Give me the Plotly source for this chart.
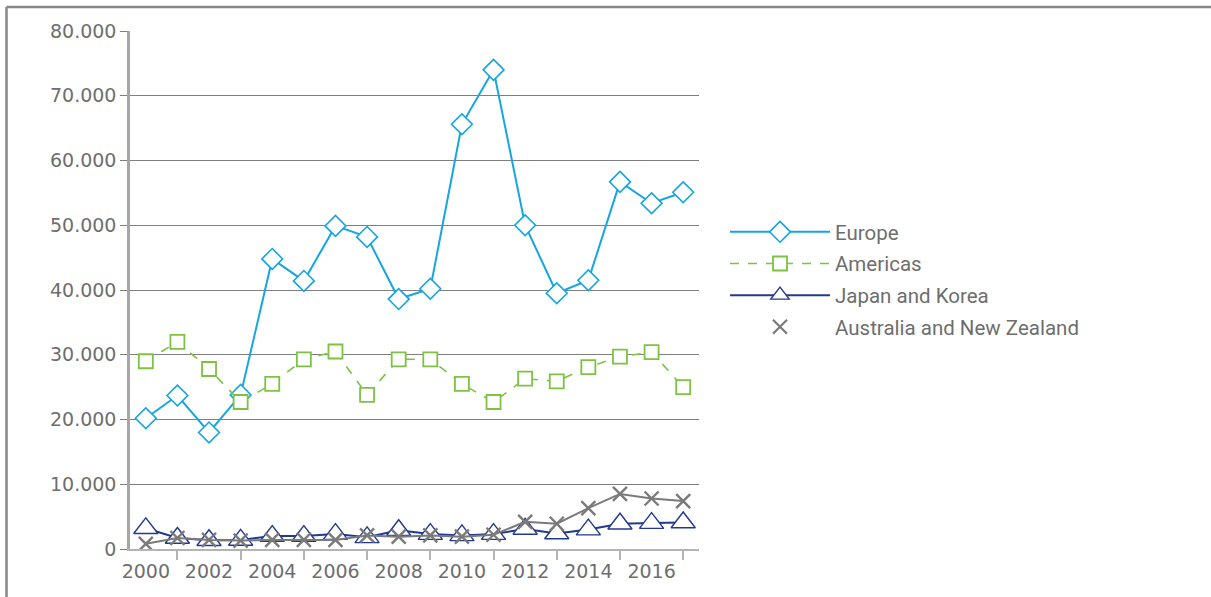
import plotly.graph_objects as go

# Annual values by region (units)
years = list(range(2000, 2018))
europe = [20200, 23700, 18000, 23800, 44800, 41400, 49900, 48200, 38600, 40200,
          65600, 74000, 50000, 39500, 41500, 56700, 53400, 55100]
americas = [29000, 32000, 27800, 22700, 25500, 29300, 30500, 23800, 29300, 29300,
            25500, 22700, 26300, 25900, 28100, 29700, 30400, 25000]
japan_korea = [3200, 1700, 1350, 1400, 2000, 2000, 2300, 1800, 2900, 2300,
               2100, 2300, 3100, 2400, 3000, 3900, 4000, 4100]
aus_nz = [800, 1700, 1400, 1300, 1400, 1400, 1400, 2100, 1900, 2100,
          1900, 2200, 4200, 3900, 6300, 8500, 7800, 7400]

y_ticks = [0, 10000, 20000, 30000, 40000, 50000, 60000, 70000, 80000]
y_ticktext = ["0", "10.000", "20.000", "30.000", "40.000", "50.000", "60.000", "70.000", "80.000"]
x_labels = [2000, 2002, 2004, 2006, 2008, 2010, 2012, 2014, 2016]
x_minor = [2001, 2003, 2005, 2007, 2009, 2011, 2013, 2015, 2017]

W, H = 1211, 597
L, R, T, B = 130, 512, 31, 48
PW, PH = W - L - R, H - T - B


def px_x(px):
    return (px - L) / PW


def px_y(py):
    return 1 - (py - T) / PH


C_EU = "#14a5e2"
C_AM = "#7dc243"
C_JK = "#22398f"
C_AU = "#7a7a7a"
TXT = "#6e6e6e"

fig = go.Figure()

fig.add_trace(go.Scatter(
    x=years, y=europe, name="Europe", mode="lines+markers",
    line=dict(color=C_EU, width=2),
    marker=dict(symbol="diamond", size=16, color="white",
                line=dict(color=C_EU, width=1.6)),
    legendgroup="eu",
))
fig.add_trace(go.Scatter(
    x=years, y=americas, name="Americas", mode="lines+markers",
    line=dict(color=C_AM, width=1.6, dash="dash"),
    marker=dict(symbol="square", size=14, color="white",
                line=dict(color=C_AM, width=1.8)),
    legendgroup="am",
))
fig.add_trace(go.Scatter(
    x=years, y=japan_korea, name="Japan and Korea", mode="lines+markers",
    line=dict(color=C_JK, width=2),
    marker=dict(symbol="triangle-up", size=21, color="white",
                line=dict(color=C_JK, width=1.4)),
    legendgroup="jk",
))
fig.add_trace(go.Scatter(
    x=years, y=aus_nz, name="Australia and New Zealand", mode="lines+markers",
    line=dict(color=C_AU, width=2),
    marker=dict(symbol="x-thin", size=14, color=C_AU,
                line=dict(color=C_AU, width=2.4)),
    showlegend=False, legendgroup="au",
))
# legend entry for the last series shows the marker only
fig.add_trace(go.Scatter(
    x=[None], y=[None], name="Australia and New Zealand", mode="markers",
    marker=dict(symbol="x-thin", size=14, color=C_AU,
                line=dict(color=C_AU, width=2.2)),
    legendgroup="au",
))

# outer frame (top and left edges)
frame_x = px_x(6.5)
frame_y = px_y(7)
fig.add_shape(type="line", xref="paper", yref="paper",
              x0=frame_x, x1=frame_x, y0=px_y(H + 5), y1=frame_y,
              line=dict(color="#878787", width=2.5))
fig.add_shape(type="line", xref="paper", yref="paper",
              x0=frame_x, x1=px_x(W + 5), y0=frame_y, y1=frame_y,
              line=dict(color="#878787", width=2.5))

fig.update_layout(
    width=W, height=H,
    margin=dict(l=L, r=R, t=T, b=B, pad=0),
    paper_bgcolor="white", plot_bgcolor="white",
    font=dict(family="DejaVu Sans", size=19, color=TXT),
    showlegend=True,
    legend=dict(
        xref="container", yref="container",
        x=725 / W, y=1 - 212 / H, xanchor="left", yanchor="top",
        font=dict(family="Roboto", size=20.5, color=TXT),
        itemwidth=100, tracegroupgap=2,
        bgcolor="rgba(0,0,0,0)",
    ),
    xaxis=dict(
        range=[1999.5, 2017.5],
        tickmode="array", tickvals=x_labels, ticktext=[str(v) for v in x_labels],
        ticks="", showgrid=False, zeroline=False,
        showline=True, linecolor="#b4b4b4", linewidth=2,
        tickfont=dict(family="DejaVu Sans", size=19, color=TXT),
        ticklabelstandoff=4,
        minor=dict(tickmode="array", tickvals=x_minor, ticks="outside",
                   ticklen=9, tickwidth=2, tickcolor="#b4b4b4", showgrid=False),
        fixedrange=True,
    ),
    yaxis=dict(
        range=[0, 80000],
        tickmode="array", tickvals=y_ticks, ticktext=y_ticktext,
        ticks="outside", ticklen=7, tickwidth=1, tickcolor="#7f7f7f",
        showgrid=True, gridcolor="#7f7f7f", gridwidth=1,
        zeroline=False,
        showline=True, linecolor="#a6a6a6", linewidth=2.5,
        tickfont=dict(family="DejaVu Sans", size=19, color=TXT),
        ticklabelstandoff=0,
        fixedrange=True,
    ),
)

fig.write_html("out.html", config={"displayModeBar": False})
